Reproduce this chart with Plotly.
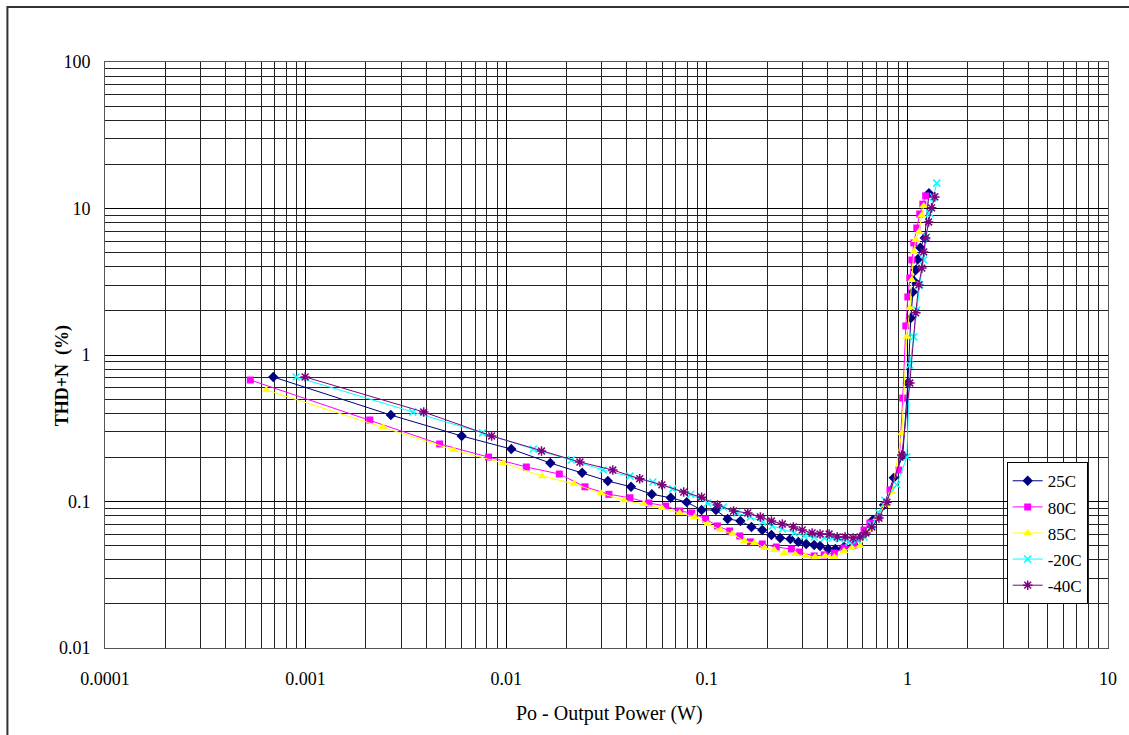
import plotly.graph_objects as go

# ---------------- data ----------------
x_25 = [0.00069, 0.00266, 0.0060, 0.0106, 0.0166, 0.0239, 0.0321, 0.0419, 0.0532, 0.0661,
        0.0794, 0.0942, 0.111, 0.127, 0.147, 0.167, 0.189, 0.210, 0.232, 0.261,
        0.286, 0.313, 0.343, 0.367, 0.403, 0.437, 0.483, 0.542, 0.601, 0.673,
        0.764, 0.855, 0.948, 1.005, 1.04, 1.064, 1.076, 1.10, 1.127, 1.16, 1.22, 1.28]
y_25 = [0.708, 0.389, 0.280, 0.228, 0.183, 0.157, 0.138, 0.126, 0.112, 0.106,
        0.099, 0.0875, 0.0875, 0.076, 0.0736, 0.067, 0.0639, 0.059, 0.0563, 0.0555,
        0.053, 0.0513, 0.0505, 0.0497, 0.0474, 0.0474, 0.0489, 0.0505, 0.059, 0.0748,
        0.0946, 0.145, 0.205, 0.644, 1.79, 2.69, 3.2, 3.8, 4.5, 5.4, 6.3, 12.7]

x_80 = [0.00053, 0.00209, 0.00466, 0.00817, 0.0126, 0.0184, 0.0247, 0.0325, 0.0414, 0.0514,
        0.0624, 0.0733, 0.0841, 0.0986, 0.113, 0.130, 0.146, 0.165, 0.189, 0.222,
        0.264, 0.289, 0.343, 0.385, 0.432, 0.483, 0.542, 0.608, 0.650, 0.721,
        0.819, 0.906, 0.948, 0.982, 1.005, 1.028, 1.052, 1.076, 1.114, 1.152, 1.194, 1.233]
y_80 = [0.675, 0.360, 0.247, 0.201, 0.172, 0.154, 0.126, 0.112, 0.106, 0.0977,
        0.0931, 0.0861, 0.0835, 0.076, 0.0681, 0.0629, 0.0582, 0.053, 0.0513, 0.0489,
        0.0474, 0.0452, 0.0425, 0.0432, 0.0445, 0.0482, 0.0505, 0.0639, 0.0713, 0.0784,
        0.120, 0.164, 0.508, 1.58, 2.49, 3.36, 4.45, 5.82, 7.36, 9.17, 10.7, 12.2]

x_85 = [0.000637, 0.00243, 0.00547, 0.00968, 0.0151, 0.0218, 0.0297, 0.0386, 0.0485, 0.0597,
        0.0733, 0.0869, 0.101, 0.117, 0.134, 0.154, 0.173, 0.194, 0.217, 0.243,
        0.276, 0.310, 0.347, 0.389, 0.432, 0.483, 0.530, 0.581, 0.643, 0.705,
        0.773, 0.838, 0.938, 0.994, 1.028, 1.052, 1.076, 1.10, 1.14, 1.18, 1.206]
y_85 = [0.577, 0.323, 0.225, 0.183, 0.149, 0.132, 0.114, 0.102, 0.0962, 0.0903,
        0.0835, 0.0784, 0.0702, 0.0639, 0.060, 0.0537, 0.0521, 0.0482, 0.0467, 0.0445,
        0.0438, 0.0425, 0.0418, 0.0425, 0.0418, 0.0460, 0.0482, 0.0497, 0.0639, 0.0771,
        0.0946, 0.116, 0.294, 1.33, 2.09, 3.25, 5.05, 6.1, 6.9, 9.0, 10.4]

x_m20 = [0.000897, 0.00342, 0.00762, 0.01365, 0.0211, 0.0304, 0.0414, 0.0538, 0.0676, 0.0832,
         0.101, 0.121, 0.141, 0.165, 0.189, 0.212, 0.238, 0.273, 0.306, 0.343,
         0.385, 0.422, 0.461, 0.512, 0.561, 0.608, 0.665, 0.721, 0.773, 0.885,
         0.994, 1.028, 1.076, 1.114, 1.152, 1.206, 1.248, 1.29, 1.35, 1.40]
y_m20 = [0.708, 0.408, 0.294, 0.228, 0.192, 0.164, 0.149, 0.136, 0.122, 0.112,
         0.0977, 0.0917, 0.0835, 0.0784, 0.0725, 0.0681, 0.0649, 0.061, 0.0582, 0.0573,
         0.0563, 0.0563, 0.0555, 0.053, 0.0546, 0.0573, 0.0692, 0.0835, 0.102, 0.130,
         0.201, 0.855, 1.33, 2.03, 3.01, 4.45, 6.4, 9.3, 12.0, 14.9]

x_m40 = [0.000995, 0.00388, 0.00846, 0.0150, 0.0233, 0.0340, 0.0463, 0.0597, 0.0767, 0.0942,
         0.113, 0.136, 0.160, 0.185, 0.210, 0.238, 0.270, 0.299, 0.335, 0.367,
         0.407, 0.447, 0.489, 0.536, 0.581, 0.621, 0.665, 0.721, 0.791, 0.938,
         1.028, 1.10, 1.14, 1.18, 1.206, 1.233, 1.276, 1.32, 1.37]
y_m40 = [0.708, 0.408, 0.280, 0.221, 0.186, 0.164, 0.143, 0.130, 0.116, 0.107,
         0.0946, 0.0861, 0.0835, 0.0784, 0.0736, 0.0702, 0.067, 0.0639, 0.061, 0.060,
         0.060, 0.0573, 0.0573, 0.0563, 0.0573, 0.061, 0.067, 0.0771, 0.099, 0.2076,
         0.644, 1.94, 3.01, 3.92, 5.05, 6.3, 8.09, 10.1, 12.0]

series_names = ["25C", "80C", "85C", "-20C", "-40C"]

x_major = [0.0001, 0.001, 0.01, 0.1, 1, 10]
x_labels = ["0.0001", "0.001", "0.01", "0.1", "1", "10"]
y_major = [0.01, 0.1, 1, 10, 100]
y_labels = ["0.01", "0.1", "1", "10", "100"]

# ---------------- figure ----------------
FONT = "Liberation Serif"

x_minor = [m * d for d in [0.0001, 0.001, 0.01, 0.1, 1] for m in range(2, 10)]
y_minor = [m * d for d in [0.01, 0.1, 1, 10] for m in range(2, 10)]

styles = [
    dict(color="#000080", symbol="diamond", size=8, open=False),
    dict(color="#FF00FF", symbol="square", size=7, open=False),
    dict(color="#FFFF00", symbol="triangle-up", size=8, open=False),
    dict(color="#00FFFF", symbol="x-thin-open", size=7, open=True),
    dict(color="#800080", symbol="asterisk-open", size=8, open=True),
]
data = [(x_25, y_25), (x_80, y_80), (x_85, y_85), (x_m20, y_m20), (x_m40, y_m40)]

fig = go.Figure()
for name, (xs, ys), st in zip(series_names, data, styles):
    marker = dict(symbol=st["symbol"], size=st["size"], color=st["color"])
    if st["open"]:
        marker["line"] = dict(color=st["color"], width=1.5)
    else:
        marker["line"] = dict(width=0)
    fig.add_trace(go.Scatter(
        x=xs, y=ys, name=name, mode="lines+markers",
        line=dict(color=st["color"], width=1),
        marker=marker, legendgroup=name,
    ))

axis_common = dict(
    type="log",
    showgrid=True, gridcolor="#000000", gridwidth=1,
    showline=True, linecolor="#555555", linewidth=1, mirror=True,
    ticks="", zeroline=False,
    tickfont=dict(family=FONT, size=18, color="#000000"),
)

fig.update_xaxes(
    **axis_common,
    range=[-4, 1],
    tickmode="array", tickvals=x_major, ticktext=x_labels,
    ticklabelstandoff=14,
    minor=dict(tickmode="array", tickvals=x_minor, showgrid=True,
               gridcolor="#222222", gridwidth=1, ticks=""),
)
fig.update_yaxes(
    **axis_common,
    range=[-2, 2],
    tickmode="array", tickvals=y_major, ticktext=y_labels,
    ticklabelstandoff=10,
    minor=dict(tickmode="array", tickvals=y_minor, showgrid=True,
               gridcolor="#222222", gridwidth=1, ticks=""),
)

fig.update_layout(
    width=1129, height=735, autosize=False,
    margin=dict(l=105, r=17, t=62, b=87),
    paper_bgcolor="#FFFFFF", plot_bgcolor="#FFFFFF",
    font=dict(family=FONT, size=18, color="#000000"),
    showlegend=True,
    legend=dict(
        x=0.899, y=0.317, xanchor="left", yanchor="top",
        bgcolor="#FFFFFF", bordercolor="#000000", borderwidth=1,
        font=dict(family=FONT, size=17, color="#000000"),
        tracegroupgap=1, itemwidth=30,
    ),
    annotations=[
        dict(text="<b>THD+N  (%)</b>", xref="paper", yref="paper",
             x=-0.0427, y=0.464, xanchor="center", yanchor="middle",
             textangle=-90, showarrow=False,
             font=dict(family=FONT, size=18, color="#000000")),
        dict(text="Po - Output Power (W)", xref="paper", yref="paper",
             x=0.5025, y=-0.111, xanchor="center", yanchor="middle",
             showarrow=False,
             font=dict(family=FONT, size=20, color="#000000")),
    ],
    shapes=[
        dict(type="rect", xref="paper", yref="paper",
             x0=-0.0973, x1=1.05, y0=-0.25, y1=1.0939,
             line=dict(color="#333333", width=2), fillcolor="rgba(0,0,0,0)",
             layer="below"),
    ],
)

fig.write_html("out.html")
